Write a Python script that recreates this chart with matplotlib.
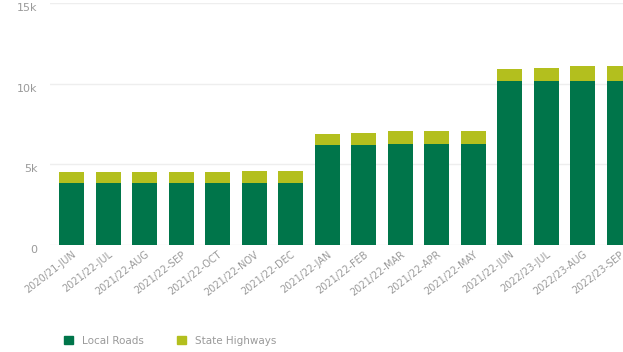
import numpy as np
import matplotlib.pyplot as plt
from matplotlib.ticker import FuncFormatter
from matplotlib.patches import Patch

months = ['2020/21-JUN', '2021/22-JUL', '2021/22-AUG', '2021/22-SEP',
          '2021/22-OCT', '2021/22-NOV', '2021/22-DEC', '2021/22-JAN',
          '2021/22-FEB', '2021/22-MAR', '2021/22-APR', '2021/22-MAY',
          '2021/22-JUN', '2022/23-JUL', '2022/23-AUG', '2022/23-SEP']
local_roads = [3830, 3830, 3830, 3830, 3830, 3830, 3830, 6170,
               6170, 6270, 6270, 6270, 10170, 10170, 10170, 10170]
state_highways = [670, 670, 670, 670, 690, 740, 740, 680,
                  760, 770, 770, 770, 730, 820, 900, 900]

c_local = '#00754A'
c_state = '#B3BF1E'
grey = '#9a9a9a'

fig = plt.figure(figsize=(6.23, 3.52), dpi=100)
ax = fig.add_axes([50 / 623, 107 / 352, 573 / 623, 242 / 352])

x = np.arange(len(months))
ax.bar(x, local_roads, width=0.68, color=c_local, zorder=3)
ax.bar(x, state_highways, width=0.68, bottom=local_roads, color=c_state, zorder=3)

ax.set_ylim(0, 15000)
ax.set_xlim(-0.6, 15.1)
ax.set_yticks([0, 5000, 10000, 15000])
ax.yaxis.set_major_formatter(FuncFormatter(lambda v, p: '0' if v == 0 else f'{int(v/1000)}k'))
ax.grid(axis='y', color='#eeeeee', linewidth=1, zorder=0)
for s in ax.spines.values():
    s.set_visible(False)
ax.tick_params(axis='y', length=0, pad=9, labelsize=8, labelcolor=grey)
ax.tick_params(axis='x', length=0, pad=3, labelsize=7, labelcolor=grey)
ax.set_xticks(x)
ax.set_xticklabels(months, rotation=38, ha='right', rotation_mode='anchor')
for lbl in ax.get_yticklabels():
    lbl.set_va('top')

handles = [Patch(color=c_local, label='Local Roads'),
           Patch(color=c_state, label='State Highways')]
fig.legend(handles=handles, loc='center left', bbox_to_anchor=(55 / 623, 1 - 341 / 352),
           ncol=2, frameon=False, fontsize=7.5, labelcolor=grey,
           handlelength=0.8, handleheight=0.8, columnspacing=3.2, handletextpad=0.9)

fig.savefig('out.png', dpi=100)
